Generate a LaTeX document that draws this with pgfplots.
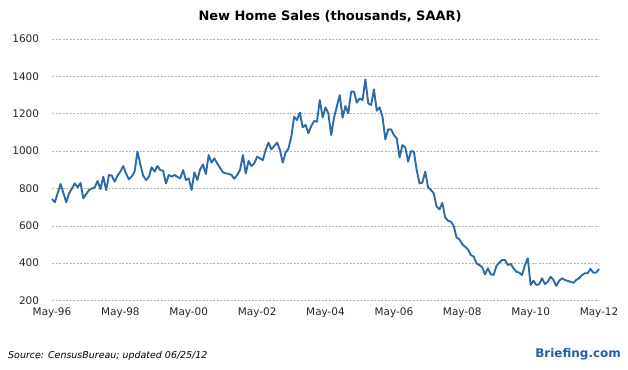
\documentclass[border=0pt]{standalone}
\usepackage{pgfplots}
\pgfplotsset{compat=1.18}
\usepackage{fontspec}
\setmainfont{DejaVu Sans}
\definecolor{lineblue}{HTML}{2E6BA6}
\definecolor{gridc}{HTML}{B2B9AC}
\definecolor{brief}{HTML}{255E9F}
\begin{document}
\begin{tikzpicture}[x=1bp,y=1bp]
\path (0,0) rectangle (628,369);
\begin{axis}[
  at={(52bp,68.5bp)}, anchor=south west,
  scale only axis, width=547bp, height=261.5bp,
  xmin=0, xmax=192, ymin=200, ymax=1600,
  axis line style={draw=none},
  major tick length=0pt,
  xtick={0,24,...,192},
  xticklabels={May-96,May-98,May-00,May-02,May-04,May-06,May-08,May-10,May-12},
  ytick={200,400,...,1600},
  ymajorgrids,
  major grid style={gridc, dash pattern=on 2bp off 1.5bp, line width=0.55bp},
  /pgf/number format/assume math mode=true,
  /pgf/number format/1000 sep={},
  tick label style={font=\fontsize{10.5}{12}\selectfont, text=black!85},
  yticklabel style={xshift=-9.5bp},
  xticklabel style={yshift=-4bp},
  clip=false,
]
\addplot[lineblue, line width=1.9bp, line join=round] coordinates {
(0,743)(1,726)(2,775)(3,824)(4,775)(5,726)(6,774)(7,800)(8,827)(9,806)
(10,830)(11,747)(12,770)(13,791)(14,800)(15,806)(16,840)(17,797)(18,863)(19,791)
(20,872)(21,868)(22,836)(23,868)(24,890)(25,920)(26,880)(27,849)(28,865)(29,890)
(30,997)(31,930)(32,868)(33,845)(34,862)(35,913)(36,890)(37,920)(38,898)(39,895)
(40,827)(41,872)(42,863)(43,872)(44,862)(45,854)(46,898)(47,845)(48,854)(49,792)
(50,886)(51,845)(52,902)(53,928)(54,877)(55,979)(56,938)(57,961)(58,934)(59,910)
(60,886)(61,881)(62,878)(63,872)(64,852)(65,872)(66,899)(67,979)(68,880)(69,947)
(70,920)(71,934)(72,970)(73,961)(74,952)(75,1006)(76,1045)(77,1009)(78,1027)(79,1045)
(80,1006)(81,938)(82,992)(83,1013)(84,1077)(85,1184)(86,1166)(87,1206)(88,1127)(89,1140)
(90,1095)(91,1134)(92,1161)(93,1157)(94,1273)(95,1180)(96,1234)(97,1202)(98,1086)(99,1180)
(100,1240)(101,1300)(102,1179)(103,1241)(104,1202)(105,1318)(106,1318)(107,1259)(108,1282)(109,1273)
(110,1384)(111,1255)(112,1246)(113,1330)(114,1216)(115,1234)(116,1184)(117,1063)(118,1116)(119,1116)
(120,1086)(121,1068)(122,966)(123,1032)(124,1020)(125,943)(126,1000)(127,997)(128,899)(129,827)
(130,831)(131,890)(132,806)(133,792)(134,774)(135,702)(136,688)(137,723)(138,645)(139,627)
(140,622)(141,599)(142,538)(143,527)(144,502)(145,488)(146,474)(147,444)(148,435)(149,399)
(150,390)(151,378)(152,340)(153,372)(154,340)(155,337)(156,385)(157,403)(158,417)(159,417)
(160,390)(161,396)(162,372)(163,354)(164,349)(165,336)(166,390)(167,426)(168,283)(169,306)
(170,283)(171,287)(172,319)(173,288)(174,300)(175,327)(176,310)(177,278)(178,306)(179,319)
(180,310)(181,305)(182,300)(183,295)(184,310)(185,319)(186,335)(187,346)(188,346)(189,369)
(190,349)(191,349)(192,369)
};
\end{axis}
\node[font=\bfseries\fontsize{13}{15}\selectfont] at (330,353) {New Home Sales (thousands, SAAR)};
\node[anchor=west, inner sep=0pt, font=\itshape\fontsize{9.5}{11}\selectfont] at (8,13) {Source: CensusBureau; updated 06/25/12};
\node[anchor=east, inner sep=0pt, font=\bfseries\fontsize{12}{14}\selectfont, text=brief] at (621,15) {Briefing.com};
\end{tikzpicture}
\end{document}
